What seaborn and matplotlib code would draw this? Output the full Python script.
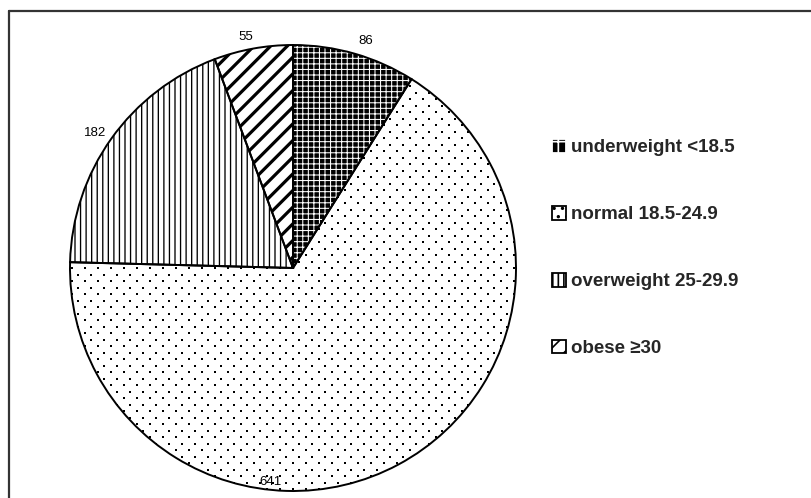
import numpy as np
import matplotlib
matplotlib.use("Agg")
import matplotlib.pyplot as plt
from matplotlib.patches import Patch
from matplotlib.lines import Line2D
import seaborn as sns

# BMI groups and counts
categories = ["underweight <18.5", "normal 18.5-24.9", "overweight 25-29.9", "obese \u226530"]
counts = [86, 641, 182, 55]

sns.set_theme(style="white")
plt.rcParams["font.family"] = ["Liberation Sans", "DejaVu Sans"]

# fill styles per group: face colour, hatch colour, hatch pattern, hatch width
faces = ["black", "white", "white", "white"]
hatch_colors = ["white", "black", "black", "black"]
hatches = ["+++", "", "|||", "//"]
hatch_widths = [0.75, 1.0, 0.95, 2.3]

W, H = 811, 498
fig = plt.figure(figsize=(W / 100, H / 100), dpi=100)
fig.patch.set_facecolor("white")

cx, cy, r = 293, 268, 223
ax = fig.add_axes([(cx - r) / W, (H - cy - r) / H, 2 * r / W, 2 * r / H])

# filled, hatched wedges
wedges, _ = ax.pie(counts, startangle=90, counterclock=False,
                   colors=faces, wedgeprops=dict(linewidth=0))
for w, hc, h, hw in zip(wedges, hatch_colors, hatches, hatch_widths):
    w.set_edgecolor(hc)
    w.set_hatch(h)
    if hasattr(w, "set_hatch_linewidth"):
        w.set_hatch_linewidth(hw)

# sparse staggered dot texture for the "normal" slice
step_x, step_y = 13 / r, 6.5 / r
ys = np.arange(-1.05, 1.05, step_y)
px, py = [], []
for i, yv in enumerate(ys):
    xs = np.arange(-1.05, 1.05, step_x) + (step_x / 2 if i % 2 else 0)
    px.extend(xs)
    py.extend([yv] * len(xs))
dots = ax.scatter(px, py, s=1.6, c="black", marker="s", linewidths=0, zorder=2)
dots.set_clip_path(wedges[1])

# black outlines on top
outline, _ = ax.pie(counts, startangle=90, counterclock=False,
                    wedgeprops=dict(facecolor="none", edgecolor="black",
                                    linewidth=1.4, zorder=3))

ax.set_xlim(-1, 1)
ax.set_ylim(-1, 1)
ax.set_aspect("equal")
ax.axis("off")

# value labels: (clockwise angle from 12 o'clock, distance from centre)
label_pos = {86: (17.5, 1.08), 641: (186.0, 0.955), 182: (-55.2, 1.08), 55: (-11.5, 1.07)}
for v in counts:
    ang_cw, rad = label_pos[v]
    a = np.radians(90 - ang_cw)
    ax.text(rad * np.cos(a), rad * np.sin(a) - 0.012, str(v), ha="center", va="center",
            fontsize=9.5, color="black", clip_on=False, zorder=4)

# legend
handles = [Patch(facecolor=fc, edgecolor=hc, hatch=h, linewidth=0)
           for fc, hc, h in zip(faces, hatch_colors, ["+", "..", "|||", "//"])]
leg = fig.legend(handles, categories, loc="upper left",
                 bbox_to_anchor=(552 / W, 1 - 139 / H), frameon=False,
                 prop=dict(weight="bold", size=13.5),
                 handlelength=0.75, handleheight=0.75, handletextpad=0.25,
                 labelspacing=2.64, borderpad=0, borderaxespad=0)
for p in leg.get_patches():
    p.set_linewidth(1.3)
    if hasattr(p, "set_hatch_linewidth"):
        p.set_hatch_linewidth(1.2)

# frame lines along the top and left edges
fig.add_artist(Line2D([9 / W, 1], [1 - 11 / H, 1 - 11 / H], color="#333333", lw=1.6))
fig.add_artist(Line2D([9 / W, 9 / W], [0, 1 - 11 / H], color="#333333", lw=1.6))

fig.savefig("out.png", dpi=100, facecolor="white")
